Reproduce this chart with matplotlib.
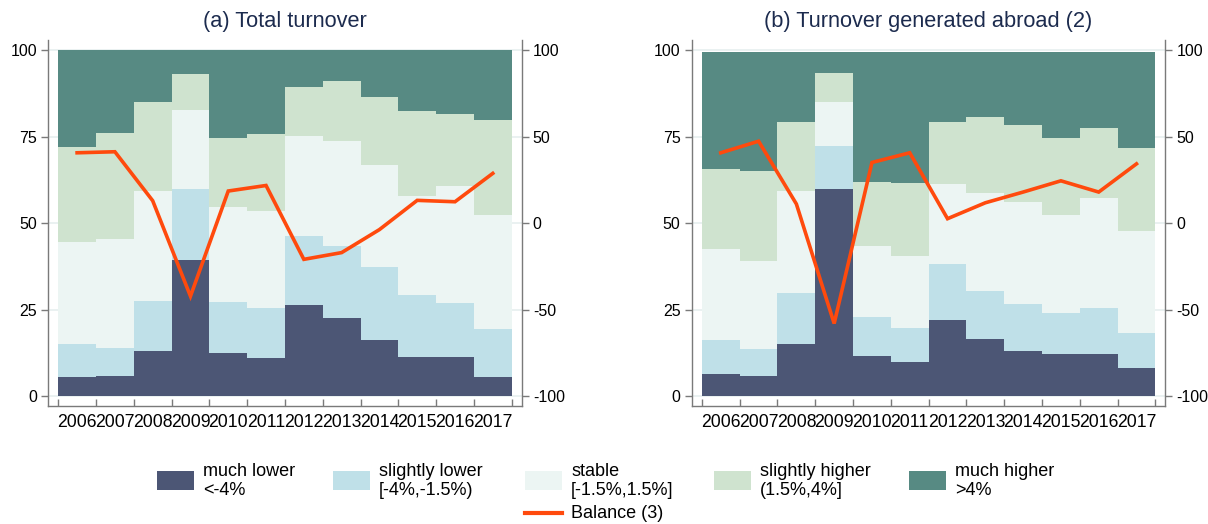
import matplotlib
matplotlib.use("Agg")
import matplotlib.pyplot as plt
from matplotlib.patches import Rectangle
from matplotlib.lines import Line2D
import numpy as np

plt.rcParams['font.family'] = ['Liberation Sans', 'DejaVu Sans']

years = [2006, 2007, 2008, 2009, 2010, 2011, 2012, 2013, 2014, 2015, 2016, 2017]
categories = ["much lower\n<-4%", "slightly lower\n[-4%,-1.5%)", "stable\n[-1.5%,1.5%]",
              "slightly higher\n(1.5%,4%]", "much higher\n>4%"]
balance_label = "Balance (3)"
titles = ["(a) Total turnover", "(b) Turnover generated abroad (2)"]

# Panel (a) shares
a_much_lower = [5.5, 5.8, 13.1, 39.4, 12.5, 10.9, 26.3, 22.6, 16.3, 11.4, 11.4, 5.5]
a_slightly_lower = [9.4, 8.0, 14.5, 20.5, 14.6, 14.6, 20.0, 20.8, 20.9, 17.9, 15.5, 13.9]
a_stable = [29.5, 31.5, 31.7, 22.8, 27.4, 28.1, 28.8, 30.4, 29.6, 28.4, 33.8, 33.0]
a_slightly_higher = [27.5, 30.7, 25.6, 10.5, 20.1, 22.0, 14.1, 17.3, 19.5, 24.6, 20.8, 27.5]
a_much_higher = [28.1, 24.1, 15.1, 6.8, 25.4, 24.4, 10.8, 8.9, 13.7, 17.7, 18.5, 20.1]
a_balance = [40.6, 41.2, 12.9, -42.3, 18.5, 21.7, -21.0, -17.1, -3.8, 13.1, 12.3, 28.7]

# Panel (b) shares
b_much_lower = [6.5, 5.8, 15.1, 59.9, 11.6, 9.8, 22.0, 16.4, 12.9, 12.1, 12.1, 8.0]
b_slightly_lower = [9.7, 7.7, 14.7, 12.5, 11.3, 9.9, 16.3, 13.9, 13.7, 11.8, 13.4, 10.1]
b_stable = [26.4, 25.6, 29.5, 12.5, 20.5, 20.8, 23.0, 28.5, 29.4, 28.3, 31.7, 29.7]
b_slightly_higher = [23.1, 26.0, 20.0, 8.6, 18.4, 21.0, 18.0, 21.9, 22.3, 22.4, 20.3, 23.8]
b_much_higher = [33.8, 34.4, 20.2, 6.0, 37.7, 38.0, 20.2, 18.8, 21.2, 24.9, 22.0, 27.9]
b_balance = [40.6, 47.3, 11.0, -58.1, 35.0, 40.6, 2.5, 11.7, 17.9, 24.4, 17.9, 34.2]

colors = ["#4c5675", "#bfe0e8", "#ecf5f3", "#cfe3cf", "#578a83"]
line_color = "#ff4a0d"
title_color = "#1c2b4e"
spine_color = "#7a7a7a"

panels = [
    [a_much_lower, a_slightly_lower, a_stable, a_slightly_higher, a_much_higher, a_balance],
    [b_much_lower, b_slightly_lower, b_stable, b_slightly_higher, b_much_higher, b_balance],
]

W, H = 1208, 524
fig = plt.figure(figsize=(W / 100, H / 100), dpi=100)

ax_lefts = [48 / W, 691.7 / W]
ax_w = 473.7 / W
ax_bottom = 1 - 405.7 / H
ax_h = (405.7 - 40) / H

x = np.arange(len(years))
for i, data in enumerate(panels):
    ax = fig.add_axes([ax_lefts[i], ax_bottom, ax_w, ax_h])
    ax.set_ylim(-2.8, 102.9)
    ax.set_xlim(-0.77, 11.765)
    for yv in [0, 25, 50, 75, 100]:
        ax.axhline(yv, color="#e6efef", lw=1.2, zorder=0)
    bottom = np.zeros(len(years))
    for k in range(5):
        vals = np.array(data[k])
        ax.bar(x, vals, width=1.0, bottom=bottom, color=colors[k], edgecolor="none",
               linewidth=0, zorder=2)
        bottom = bottom + vals
    ax.set_yticks([0, 25, 50, 75, 100])
    ax.set_yticklabels(["0", "25", "50", "75", "100"], fontsize=11.5)
    ax.set_xticks(x)
    ax.set_xticklabels([str(y) for y in years], fontsize=12.7)
    ax.tick_params(axis="x", which="major", length=0, pad=6)
    ax.set_xticks(np.arange(-0.5, 12, 1.0), minor=True)
    ax.tick_params(axis="x", which="minor", direction="in", length=5, color=spine_color, width=1)
    ax.tick_params(axis="y", length=5, color=spine_color, width=1, pad=3)
    for s in ["top", "right"]:
        ax.spines[s].set_visible(False)
    for s in ["left", "bottom"]:
        ax.spines[s].set_color(spine_color)
        ax.spines[s].set_linewidth(1)
    ax.set_title(titles[i], fontsize=15.7, color=title_color, pad=9)

    ax2 = ax.twinx()
    ax2.set_ylim(-105.6, 105.8)
    ax2.plot(x, data[5], color=line_color, lw=2.6, zorder=5, solid_joinstyle="miter")
    ax2.set_yticks([-100, -50, 0, 50, 100])
    ax2.set_yticklabels(["-100", "-50", "0", "50", "100"], fontsize=11.5)
    ax2.tick_params(axis="y", length=5, color=spine_color, width=1, pad=3)
    for s in ["top", "left", "bottom"]:
        ax2.spines[s].set_visible(False)
    ax2.spines["right"].set_color(spine_color)
    ax2.spines["right"].set_linewidth(1)

# Legend (manual, in figure pixels)
patch_x = [157, 333, 525, 714, 909]
patch_w, patch_h = 37, 19
patch_y_top = 471
for k in range(5):
    fig.add_artist(Rectangle((patch_x[k] / W, 1 - (patch_y_top + patch_h) / H),
                             patch_w / W, patch_h / H, transform=fig.transFigure,
                             facecolor=colors[k], edgecolor="none"))
    fig.text((patch_x[k] + patch_w + 9) / W, 1 - 463 / H, categories[k], fontsize=13,
             va="top", ha="left", linespacing=1.12)
fig.add_artist(Line2D([525 / W, 562 / W], [1 - 513 / H, 1 - 513 / H], transform=fig.transFigure,
                      color=line_color, lw=3))
fig.text(571 / W, 1 - 513 / H, balance_label, fontsize=13, va="center", ha="left")

fig.savefig("out.png", dpi=100)
